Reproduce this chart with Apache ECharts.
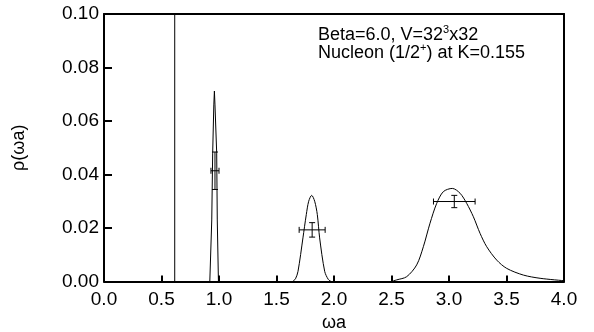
<!DOCTYPE html>
<html>
<head>
<meta charset="utf-8">
<script src="https://cdn.jsdelivr.net/npm/echarts@6/dist/echarts.min.js"></script>
<style>
  html, body { margin: 0; padding: 0; background: #fff; }
  #chart { width: 594px; height: 332px; }
</style>
</head>
<body>
<div id="chart"></div>
<script>
// x ticks / y ticks
const xTicks = [0, 0.5, 1.0, 1.5, 2.0, 2.5, 3.0, 3.5, 4.0];
const yTicks = [0, 0.02, 0.04, 0.06, 0.08, 0.10];

// vertical threshold line
const thresholdX = 0.615;

// spectral function peaks [ωa, ρ]
const peak1 = [[0.92, 0], [0.937, 0.023], [0.945, 0.048], [0.955, 0.066], [0.960, 0.0712],
  [0.965, 0.066], [0.980, 0.048], [0.985, 0.023], [0.995, 0]];
const peak2 = [[1.64, 0], [1.665, 0.001], [1.687, 0.0038], [1.73, 0.0163], [1.759, 0.025],
  [1.78, 0.030], [1.806, 0.0322], [1.832, 0.030], [1.855, 0.025], [1.875, 0.0163],
  [1.919, 0.0038], [1.95, 0.0008], [1.975, 0]];
const peak3 = [[2.50, 0], [2.545, 0.0006], [2.632, 0.0018], [2.719, 0.0062], [2.777, 0.013],
  [2.835, 0.0218], [2.893, 0.0292], [2.951, 0.0336], [3.029, 0.0348], [3.096, 0.033],
  [3.154, 0.0292], [3.212, 0.0242], [3.27, 0.018], [3.328, 0.013], [3.415, 0.008],
  [3.502, 0.0049], [3.647, 0.0024], [3.792, 0.0012], [4.0, 0.0003]];

// error bar points [x, y, xErr, yErr]
const errPoints = [[0.965, 0.0414, 0.035, 0.007], [1.81, 0.0193, 0.113, 0.0027], [3.046, 0.0299, 0.181, 0.0023]];

const font = "'Liberation Sans', Arial, Helvetica, sans-serif";
const chart = echarts.init(document.getElementById("chart"));

const lineSeries = (data, smooth) => ({
  type: "line",
  data,
  showSymbol: false,
  smooth: smooth || false,
  lineStyle: { color: "#000", width: 1 },
  z: 3
});

const supText = (id, left, top, text) => ({
  id,
  type: "text",
  left,
  top,
  style: {
    text,
    rich: {
      n: { fontFamily: font, fontSize: 18, color: "#000", lineHeight: 20, verticalAlign: "bottom" },
      s: { fontFamily: font, fontSize: 11, color: "#000", lineHeight: 20, verticalAlign: "top" }
    }
  }
});

const option = {
  animation: false,
  grid: { left: 104, right: 30, top: 14, bottom: 50.5, outerBoundsMode: "none" },
  xAxis: [
    {
      type: "value",
      min: xTicks[0],
      max: xTicks[xTicks.length - 1],
      interval: 0.5,
      name: "ωa",
      nameLocation: "middle",
      nameGap: 30,
      nameTextStyle: { fontFamily: font, fontSize: 18, color: "#000" },
      axisLine: { onZero: false, lineStyle: { color: "#000", width: 2 } },
      axisTick: { show: true, inside: true, length: 6, lineStyle: { color: "#000", width: 2 } },
      axisLabel: { margin: 9, fontFamily: font, fontSize: 19, color: "#000", formatter: v => v.toFixed(1) },
      splitLine: { show: false }
    },
    {
      type: "value",
      position: "top",
      min: 0,
      max: 4,
      axisLine: { onZero: false, lineStyle: { color: "#000", width: 2 } },
      axisTick: { show: false },
      axisLabel: { show: false },
      splitLine: { show: false }
    }
  ],
  yAxis: [
    {
      type: "value",
      min: yTicks[0],
      max: yTicks[yTicks.length - 1],
      interval: 0.02,
      name: "ρ(ωa)",
      nameLocation: "middle",
      nameGap: 76,
      nameRotate: 90,
      nameTextStyle: { fontFamily: font, fontSize: 18, color: "#000" },
      axisLine: { show: true, onZero: false, lineStyle: { color: "#000", width: 2 } },
      axisTick: { show: true, inside: true, length: 8, lineStyle: { color: "#000", width: 2 } },
      axisLabel: { margin: 5, fontFamily: font, fontSize: 19, color: "#000", formatter: v => v.toFixed(2) },
      splitLine: { show: false }
    },
    {
      type: "value",
      position: "right",
      min: 0,
      max: 0.1,
      axisLine: { show: true, onZero: false, lineStyle: { color: "#000", width: 2 } },
      axisTick: { show: false },
      axisLabel: { show: false },
      splitLine: { show: false }
    }
  ],
  graphic: [
    supText("t1", 318, 24, "{n|Beta=6.0, V=32}{s|3}{n|x32}"),
    supText("t2", 318, 42, "{n|Nucleon (1/2}{s|+}{n|) at K=0.155}")
  ],
  series: [
    lineSeries([[thresholdX, 0], [thresholdX, 0.1]]),
    lineSeries(peak1),
    lineSeries(peak2, 0.3),
    lineSeries(peak3, 0.3),
    {
      type: "custom",
      data: errPoints,
      z: 4,
      renderItem: (params, api) => {
        const x = api.value(0), y = api.value(1), dx = api.value(2), dy = api.value(3);
        const l = api.coord([x - dx, y]), r = api.coord([x + dx, y]);
        const t = api.coord([x, y + dy]), b = api.coord([x, y - dy]);
        const cap = 3;
        const style = { stroke: "#000", lineWidth: 1 };
        const seg = (x1, y1, x2, y2) => ({ type: "line", shape: { x1, y1, x2, y2 }, style });
        return {
          type: "group",
          children: [
            seg(l[0], l[1], r[0], r[1]),
            seg(l[0], l[1] - cap, l[0], l[1] + cap),
            seg(r[0], r[1] - cap, r[0], r[1] + cap),
            seg(t[0], t[1], b[0], b[1]),
            seg(t[0] - cap, t[1], t[0] + cap, t[1]),
            seg(b[0] - cap, b[1], b[0] + cap, b[1])
          ]
        };
      }
    }
  ]
};

chart.setOption(option);
</script>
</body>
</html>
